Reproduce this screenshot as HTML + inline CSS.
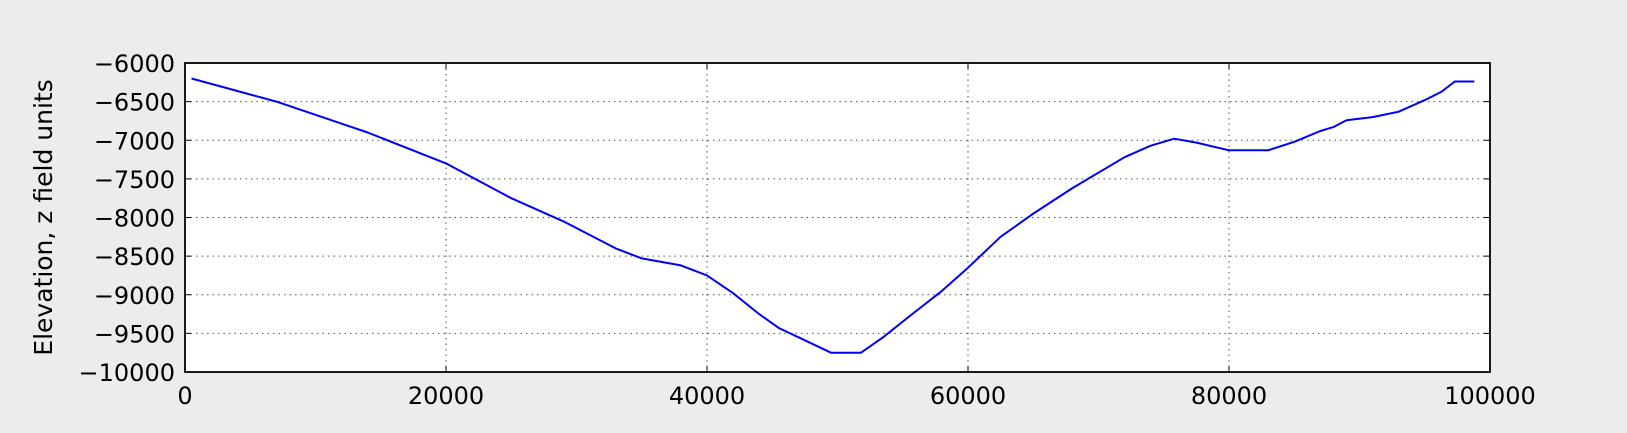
<!DOCTYPE html>
<html><head><meta charset="utf-8"><style>
html,body{margin:0;padding:0;background:#ececec;}
svg{display:block;font-family:"DejaVu Sans","Liberation Sans",sans-serif;}
</style></head><body>
<svg id="chart" width="1627" height="433"></svg>
<script>
const xTicks=[0,20000,40000,60000,80000,100000];
const yTicks=[-6000,-6500,-7000,-7500,-8000,-8500,-9000,-9500,-10000];
const distances=[500,7000,14000,20000,25000,29000,33000,35000,38000,40000,42000,44000,45500,47000,49500,51800,53500,55500,58000,60000,62500,65000,68000,72000,74000,75800,77500,80000,83000,85000,87000,88000,89000,91000,93000,95000,96300,97300,98800];
const elevations=[-6200,-6500,-6900,-7300,-7750,-8050,-8400,-8530,-8620,-8750,-8980,-9250,-9430,-9550,-9750,-9750,-9550,-9280,-8950,-8650,-8250,-7950,-7620,-7220,-7070,-6980,-7030,-7130,-7130,-7020,-6880,-6830,-6740,-6700,-6630,-6480,-6370,-6240,-6240];
const NS="http://www.w3.org/2000/svg";
const svg=document.getElementById('chart');
const L=185,R=1490,T=63,B=372;
const xs=v=>L+(v-0)/(100000-0)*(R-L);
const ys=v=>T+(-6000-v)/(4000)*(B-T);
function mk(tag,attrs,parent){const e=document.createElementNS(NS,tag);for(const k in attrs)e.setAttribute(k,attrs[k]);(parent||svg).appendChild(e);return e;}
const bg=mk('rect',{x:L,y:T,width:R-L,height:B-T,fill:'#fff'});


xTicks.forEach(t=>{
  const x=xs(t);
  if(t>0&&t<100000){const g=mk('line',{x1:x,y1:T,x2:x,y2:B,stroke:'#555','stroke-dasharray':'1.5,4','stroke-width':1});
  
  }
  mk('line',{x1:x,y1:B,x2:x,y2:B-6,stroke:'#000'});
  mk('line',{x1:x,y1:T,x2:x,y2:T+6,stroke:'#000'});
  const tx=mk('text',{x:x,y:B+32,'text-anchor':'middle','font-size':24,fill:'#000'});
  tx.textContent=t;
  
  
});
yTicks.forEach(t=>{
  const y=ys(t);
  if(t>-10000&&t<-6000){const g=mk('line',{x1:L,y1:y,x2:R,y2:y,stroke:'#555','stroke-dasharray':'1.5,4','stroke-width':1});
  
  }
  mk('line',{x1:L,y1:y,x2:L+6,y2:y,stroke:'#000'});
  mk('line',{x1:R,y1:y,x2:R-6,y2:y,stroke:'#000'});
  const tx=mk('text',{x:L-10,y:y+9,'text-anchor':'end','font-size':24,fill:'#000'});
  tx.textContent=String(t).replace('-','\u2212');
  
  
});
const pts=distances.map((d,i)=>xs(d).toFixed(1)+','+ys(elevations[i]).toFixed(1)).join(' ');
const line=mk('polyline',{points:pts,fill:'none',stroke:'#0000ff','stroke-width':2,'stroke-linejoin':'round'});


const fr=mk('rect',{x:L,y:T,width:R-L,height:B-T,fill:'none',stroke:'#000','stroke-width':1.8});


const yl=mk('text',{x:0,y:0,'text-anchor':'middle','font-size':25,fill:'#000',transform:'translate(52,'+((T+B)/2)+') rotate(-90)'});
yl.textContent='Elevation, z field units';


</script>
</body></html>
